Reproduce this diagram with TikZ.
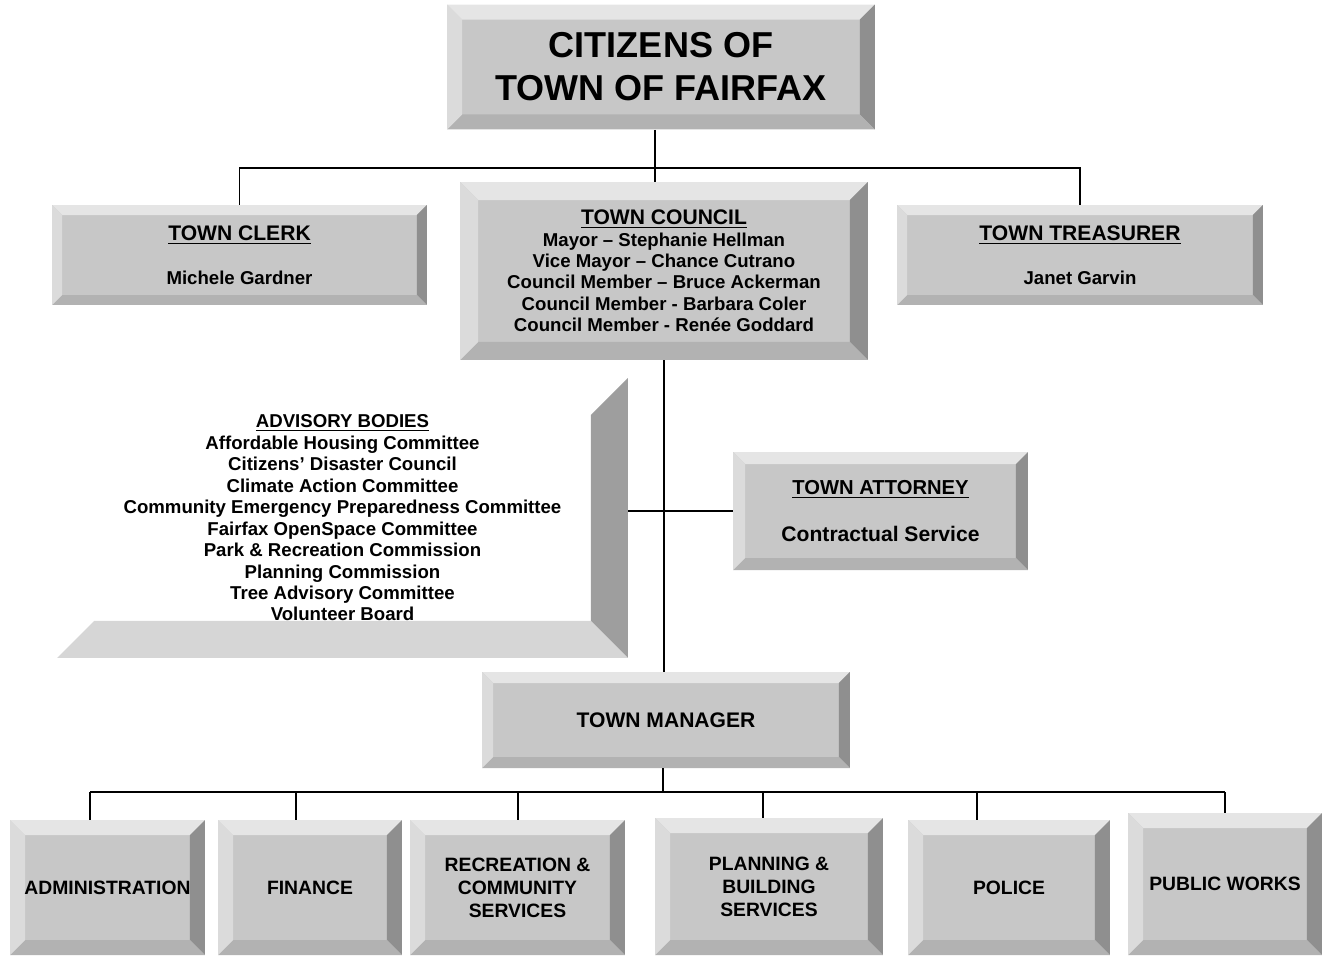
\documentclass[tikz,border=0pt]{standalone}
\usepackage{fontspec}
\setmainfont{Liberation Sans}
\usetikzlibrary{positioning}

\definecolor{bface}{gray}{0.78}
\definecolor{btop}{gray}{0.90}
\definecolor{bleft}{gray}{0.86}
\definecolor{bright}{gray}{0.56}
\definecolor{bbottom}{gray}{0.70}
\definecolor{aright}{gray}{0.62}
\definecolor{abottom}{gray}{0.84}

\tikzset{
  bevel/.code={\def\bw{#1}},
  bevel=0.2cm,
  bevbox/.style={rectangle, inner sep=0pt, align=center, fill=bface,
    path picture={
      \fill[btop] (path picture bounding box.north west) -- (path picture bounding box.north east)
        -- ([shift={(-\bw,-\bw)}]path picture bounding box.north east)
        -- ([shift={(\bw,-\bw)}]path picture bounding box.north west) -- cycle;
      \fill[bright] (path picture bounding box.north east) -- (path picture bounding box.south east)
        -- ([shift={(-\bw,\bw)}]path picture bounding box.south east)
        -- ([shift={(-\bw,-\bw)}]path picture bounding box.north east) -- cycle;
      \fill[bbottom] (path picture bounding box.south east) -- (path picture bounding box.south west)
        -- ([shift={(\bw,\bw)}]path picture bounding box.south west)
        -- ([shift={(-\bw,\bw)}]path picture bounding box.south east) -- cycle;
      \fill[bleft] (path picture bounding box.south west) -- (path picture bounding box.north west)
        -- ([shift={(\bw,-\bw)}]path picture bounding box.north west)
        -- ([shift={(\bw,\bw)}]path picture bounding box.south west) -- cycle;
    }},
  advbox/.style={rectangle, inner sep=0pt, align=center,
    path picture={
      \fill[aright] (path picture bounding box.north east) -- (path picture bounding box.south east)
        -- ([shift={(-\bw,\bw)}]path picture bounding box.south east)
        -- ([shift={(-\bw,-\bw)}]path picture bounding box.north east) -- cycle;
      \fill[abottom] (path picture bounding box.south east) -- (path picture bounding box.south west)
        -- ([shift={(\bw,\bw)}]path picture bounding box.south west)
        -- ([shift={(-\bw,\bw)}]path picture bounding box.south east) -- cycle;
    }},
  head/.style={font=\fontsize{12}{14}\selectfont\bfseries},
  body/.style={font=\fontsize{10.6}{12.2}\selectfont\bfseries},
  dept/.style={bevbox, bevel=0.3cm, minimum height=2.7cm, font=\fontsize{11}{13}\selectfont\bfseries},
  link/.style={draw=black, line width=0.8pt}
}

\begin{document}
\begin{tikzpicture}[x=0.02cm, y=-0.02cm]
\useasboundingbox (0,0) rectangle (1326,958);

% top of the chart
\node[bevbox, bevel=0.3cm, minimum width=8.56cm, minimum height=2.5cm,
  font=\fontsize{20.5}{24.5}\selectfont\bfseries] (citz) at (661,67) {CITIZENS OF\\TOWN OF FAIRFAX};

\node[bevbox, minimum width=7.5cm, minimum height=2cm, head] (clerk) at (239.5,255)
  {\underline{TOWN CLERK}\\[11pt]{\fontsize{10.6}{12}\selectfont Michele Gardner}};
\node[bevbox, bevel=0.36cm, minimum width=8.16cm, minimum height=3.56cm, body] (council) at (664,271)
  {{\fontsize{12}{12}\selectfont\underline{TOWN COUNCIL}}\\
   Mayor -- Stephanie Hellman\\
   Vice Mayor -- Chance Cutrano\\
   Council Member -- Bruce Ackerman\\
   Council Member - Barbara Coler\\
   Council Member - Renée Goddard};
\node[bevbox, minimum width=7.32cm, minimum height=2cm, head] (treas) at (1080,255)
  {\underline{TOWN TREASURER}\\[11pt]{\fontsize{10.6}{12}\selectfont Janet Garvin}};

% advisory bodies and attorney
\node[advbox, bevel=0.74cm, minimum width=11.42cm, minimum height=5.6cm, body] (adv) at (342.5,518)
  {\underline{ADVISORY BODIES}\\
   Affordable Housing Committee\\
   Citizens’ Disaster Council\\
   Climate Action Committee\\
   Community Emergency Preparedness Committee\\
   Fairfax OpenSpace Committee\\
   Park \& Recreation Commission\\
   Planning Commission\\
   Tree Advisory Committee\\
   Volunteer Board};
\node[bevbox, bevel=0.24cm, minimum width=5.9cm, minimum height=2.36cm, font=\fontsize{11.5}{14}\selectfont\bfseries] (att) at (880.5,511)
  {\underline{TOWN ATTORNEY}\\[13pt]{\fontsize{12}{14}\selectfont Contractual Service}};

\node[bevbox, bevel=0.22cm, minimum width=7.36cm, minimum height=1.92cm, head] (mgr) at (666,720) {TOWN MANAGER};

% departments
\node[dept, minimum width=3.9cm] (admin) at (107.5,887.5) {ADMINISTRATION};
\node[dept, minimum width=3.68cm] (fin) at (310,887.5) {FINANCE};
\node[dept, minimum width=4.3cm] (rec) at (517.5,887.5) {RECREATION \&\\COMMUNITY\\SERVICES};
\node[dept, minimum width=4.56cm, minimum height=2.74cm] (plan) at (769,886.5) {PLANNING \&\\BUILDING\\SERVICES};
\node[dept, minimum width=4.04cm] (pol) at (1009,887.5) {POLICE};
\node[dept, minimum width=3.88cm, minimum height=2.84cm] (pw) at (1225,884) {PUBLIC WORKS};

% connectors
\coordinate (tb) at (655,168);
\draw[link] (citz.south -| tb) -- (tb);
\draw[link] (clerk.north) -- (clerk.north |- tb) -- (treas.north |- tb) -- (treas.north);
\draw[link] (tb) -- (council.north -| tb);
\draw[link] (council.south) -- (council.south |- mgr.north);
\draw[link] (adv.east |- att.west) -- (att.west);

\coordinate (bb) at (663,792);
\draw[link] (mgr.south -| bb) -- (bb);
\foreach \n/\x in {admin/90, fin/296, rec/518, plan/763, pol/977, pw/1225}{
  \path (\x,792) coordinate (d\n);
  \draw[link] (d\n) -- (\n.north -| d\n);
}
\draw[link] (dadmin) -- (dpw);
\end{tikzpicture}
\end{document}
